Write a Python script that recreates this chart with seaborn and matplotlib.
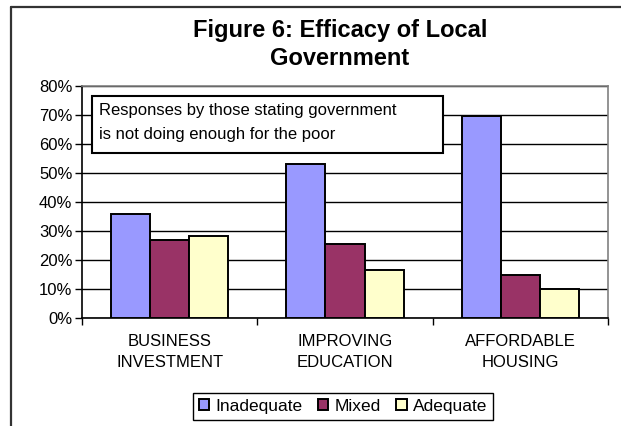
import matplotlib
matplotlib.use("Agg")
import matplotlib.pyplot as plt
import seaborn as sns
import pandas as pd
from matplotlib.lines import Line2D
from matplotlib.patches import Rectangle
from matplotlib.ticker import FuncFormatter, FixedLocator

categories = ["BUSINESS\nINVESTMENT", "IMPROVING\nEDUCATION", "AFFORDABLE\nHOUSING"]
series = ["Inadequate", "Mixed", "Adequate"]
inadequate = [0.36, 0.53, 0.695]
mixed = [0.27, 0.255, 0.15]
adequate = [0.283, 0.166, 0.102]
colors = ["#9999FF", "#993366", "#FFFFCC"]
yticks = [0, 0.1, 0.2, 0.3, 0.4, 0.5, 0.6, 0.7, 0.8]

rows = []
for s, vals in zip(series, [inadequate, mixed, adequate]):
    for c, v in zip(categories, vals):
        rows.append({"category": c, "rating": s, "value": v})
df = pd.DataFrame(rows)

sns.set_style("white")
plt.rcParams["font.family"] = ["Liberation Sans", "DejaVu Sans"]
plt.rcParams["text.color"] = "black"
plt.rcParams["axes.labelcolor"] = "black"
plt.rcParams["xtick.color"] = "black"
plt.rcParams["ytick.color"] = "black"

fig = plt.figure(figsize=(6.21, 4.26), dpi=100)
fig.patch.set_facecolor("white")
ax = fig.add_axes([82 / 621, 1 - 318.3 / 426, (608 - 82) / 621, (318.3 - 86) / 426])

sns.barplot(data=df, x="category", y="value", hue="rating", hue_order=series,
            order=categories, palette=colors, edgecolor="black", linewidth=1.4,
            width=0.67, saturation=1, ax=ax, zorder=3)

ax.set_ylim(0, 0.8)
ax.set_xlim(-0.5, 2.5)
ax.set_yticks(yticks)
ax.yaxis.set_major_formatter(FuncFormatter(lambda v, p: f"{int(round(v * 100))}%"))
ax.yaxis.grid(True, color="black", linewidth=1.0, zorder=0)
ax.set_axisbelow(True)
ax.set_xlabel("")
ax.set_ylabel("")
ax.tick_params(axis="y", which="major", length=5, width=1, direction="out", color="black",
               labelsize=12, pad=2, left=True, labelcolor="black")
ax.tick_params(axis="x", which="major", length=0, labelsize=12, pad=11, labelcolor="black")
ax.xaxis.set_minor_locator(FixedLocator([-0.5, 0.5, 1.5, 2.5]))
ax.tick_params(axis="x", which="minor", length=5, width=1, direction="out", color="black", bottom=True)
for lbl in ax.get_xticklabels():
    lbl.set_linespacing(1.5)

for side in ["left", "bottom"]:
    ax.spines[side].set_color("black")
    ax.spines[side].set_linewidth(1.2)
for side in ["top", "right"]:
    ax.spines[side].set_visible(True)
    ax.spines[side].set_color("#808080")
    ax.spines[side].set_linewidth(1.2)

leg = ax.get_legend()
handles, labels = ax.get_legend_handles_labels()
if leg is not None:
    leg.remove()
fig.legend(handles, labels, loc="center", bbox_to_anchor=(343 / 621, 1 - 406.5 / 426),
           ncol=3, frameon=True, fancybox=False, edgecolor="black", fontsize=12.5,
           handlelength=0.6, handleheight=0.6, handletextpad=0.35, columnspacing=0.9,
           borderpad=0.35, framealpha=1, labelcolor="black")

# title
fig.text(340 / 621, 1 - 37.5 / 426, "Figure 6: Efficacy of Local", ha="center", va="baseline",
         fontsize=17, fontweight="bold", color="black")
fig.text(340 / 621, 1 - 65 / 426, "Government", ha="center", va="baseline",
         fontsize=17, fontweight="bold", color="black")

# annotation box
fig.add_artist(Rectangle((92 / 621, 1 - 153 / 426), (443 - 92) / 621, (153 - 96) / 426,
                         transform=fig.transFigure, facecolor="white", edgecolor="black",
                         linewidth=1.5, zorder=5))
fig.text(99 / 621, 1 - 110 / 426, "Responses by those stating government", ha="left", va="center",
         fontsize=12, zorder=6, color="black")
fig.text(99 / 621, 1 - 135 / 426, "is not doing enough for the poor", ha="left", va="center",
         fontsize=12, zorder=6, color="black")

# outer frame (cropped chart border)
fig.add_artist(Line2D([11 / 621, 11 / 621], [0, 1 - 6.5 / 426], transform=fig.transFigure,
                      color="#333333", linewidth=1.6))
fig.add_artist(Line2D([11 / 621, 1], [1 - 6.5 / 426, 1 - 6.5 / 426], transform=fig.transFigure,
                      color="#333333", linewidth=1.6))

fig.savefig("out.png", dpi=100, facecolor="white")
